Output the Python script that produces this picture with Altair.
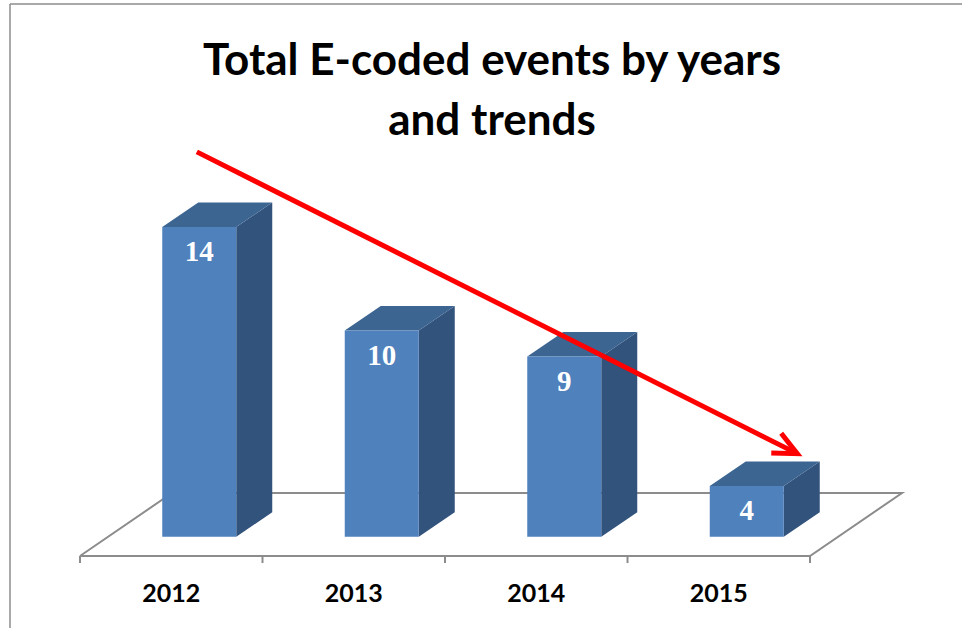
import math
import altair as alt
import pandas as pd

# ---------------- data ----------------
YEARS = ["2012", "2013", "2014", "2015"]
EVENTS = [14, 10, 9, 4]
TITLE = ["Total E-coded events by years", "and trends"]
TREND_SLOT = [0.64, 3.93]      # trend arrow start / tip (category slots)
TREND_VALUE = [16.9, 5.25]     # trend arrow start / tip (event units)

# ---------------- layout (pixels) ----------------
W, H = 962, 628
SLOT_PX = 182.5        # width of one category on the floor's front edge
FLOOR_LEFT_PX = 80     # x of the floor's front-left corner
UNIT_PX = 25.9         # pixels per event
ZERO_PX = 589.6        # y of the value 0 on the bars' front plane

# 3-D geometry, expressed in data units
BAR_W = 74 / SLOT_PX
BAR_DX, BAR_DY = 36 / SLOT_PX, 24.5 / UNIT_PX
FLOOR_DX, FLOOR_DY = 92 / SLOT_PX, 63 / UNIT_PX
FLOOR_FRONT = (ZERO_PX - 556) / UNIT_PX
TICK_LEN = 7 / UNIT_PX

FRONT = "#4F81BD"
TOP = "#3C6592"
SIDE = "#32537C"
GREY = "#8C8C8C"

xscale = alt.Scale(domain=[-FLOOR_LEFT_PX / SLOT_PX, (W - FLOOR_LEFT_PX) / SLOT_PX], nice=False, zero=False)
yscale = alt.Scale(domain=[(ZERO_PX - H) / UNIT_PX, ZERO_PX / UNIT_PX], nice=False, zero=False)


def X(f):
    return alt.X(f, type="quantitative", scale=xscale, axis=None)


def X2(f):
    return alt.X2(f)


def Y(f):
    return alt.Y(f, type="quantitative", scale=yscale, axis=None)


def Y2(f):
    return alt.Y2(f)


n = len(YEARS)
bar_rows, top_rows, side_rows = [], [], []
BASE = FLOOR_FRONT + (FLOOR_DY - BAR_DY) / 2
for i, (yr, v) in enumerate(zip(YEARS, EVENTS)):
    L = i + 0.5 - BAR_W / 2 + (FLOOR_DX - BAR_DX) / 2
    R = L + BAR_W
    bar_rows.append({"year": yr, "events": v, "L": L, "R": R, "C": (L + R) / 2,
                     "base": BASE, "mid": i + 0.5, "floor": FLOOR_FRONT})
    top_rows += [{"year": yr, "yy": v, "xl": L, "xr": R},
                 {"year": yr, "yy": v + BAR_DY, "xl": L + BAR_DX, "xr": R + BAR_DX}]
    side_rows += [{"year": yr, "xx": R, "yt": v, "yb": BASE},
                  {"year": yr, "xx": R + BAR_DX, "yt": v + BAR_DY, "yb": BASE + BAR_DY}]
bars = pd.DataFrame(bar_rows)
tops = pd.DataFrame(top_rows)
sides = pd.DataFrame(side_rows)

floor = pd.DataFrame({
    "u": [0, n, n + FLOOR_DX, FLOOR_DX, 0],
    "v": [FLOOR_FRONT, FLOOR_FRONT, FLOOR_FRONT + FLOOR_DY, FLOOR_FRONT + FLOOR_DY, FLOOR_FRONT],
    "o": [0, 1, 2, 3, 4],
})
ticks = pd.DataFrame({"u": list(range(n + 1)), "v": FLOOR_FRONT, "v2": FLOOR_FRONT - TICK_LEN})
trend = pd.DataFrame({"u": TREND_SLOT, "v": TREND_VALUE})
tip = trend.iloc[[-1]]
arrow_angle = math.degrees(math.atan2(-(TREND_VALUE[1] - TREND_VALUE[0]) * UNIT_PX,
                                      (TREND_SLOT[1] - TREND_SLOT[0]) * SLOT_PX))

floor_layer = alt.Chart(floor).mark_line(color=GREY, strokeWidth=2).encode(
    x=X("u"), y=Y("v"), order="o:Q")
tick_layer = alt.Chart(ticks).mark_rule(color=GREY, strokeWidth=2).encode(
    x=X("u"), y=Y("v"), y2=Y2("v2"))
side_layer = alt.Chart(sides).mark_area(color=SIDE, orient="vertical", opacity=1).encode(
    x=X("xx"), y=Y("yt"), y2=Y2("yb"), detail="year:N")
top_layer = alt.Chart(tops).mark_area(color=TOP, orient="horizontal", opacity=1).encode(
    y=Y("yy"), x=X("xl"), x2=X2("xr"), detail="year:N")
front_layer = alt.Chart(bars).mark_rect(color=FRONT).encode(
    x=X("L"), x2=X2("R"), y=Y("events"), y2=Y2("base"))
value_labels = alt.Chart(bars).mark_text(
    font="Liberation Serif", fontWeight="bold", fontSize=29, color="white",
    baseline="middle", align="center", dy=25).encode(
    x=X("C"), y=Y("events"), text="events:Q")
year_labels = alt.Chart(bars).mark_text(
    font="Lato", fontWeight="bold", fontSize=25, color="black",
    baseline="alphabetic", align="center", dy=46).encode(
    x=X("mid"), y=Y("floor"), text="year:N")
trend_line = alt.Chart(trend).mark_line(color="#FF0000", strokeWidth=5, strokeCap="butt").encode(
    x=X("u"), y=Y("v"))
trend_head = alt.Chart(tip).mark_point(
    shape="M-1,-0.47L0,0L-1,0.47", size=2210, filled=False, color="#FF0000",
    strokeWidth=5, opacity=1, angle=round(arrow_angle, 2), strokeJoin="miter").encode(
    x=X("u"), y=Y("v"))

one = alt.Data(values=[{}])
border_left = alt.Chart(one).mark_rule(color=GREY, strokeWidth=1.5).encode(
    x=alt.value(10), y=alt.value(4), y2=alt.value(H))
border_top = alt.Chart(one).mark_rule(color=GREY, strokeWidth=1.5).encode(
    x=alt.value(10), x2=alt.value(W), y=alt.value(4))

chart = alt.layer(
    border_left, border_top, floor_layer, tick_layer, side_layer, top_layer, front_layer,
    value_labels, year_labels, trend_line, trend_head,
).properties(
    width=W, height=H,
    title=alt.TitleParams(text=TITLE, font="Lato", fontSize=44, fontWeight="bold",
                          lineHeight=60, anchor="middle", baseline="top",
                          offset=-144, dx=11, color="black"),
    padding=0,
    autosize=alt.AutoSizeParams(type="none"),
    background="white",
).configure_view(stroke=None)

chart.save("out.html", embed_options={"renderer": "svg", "actions": False})
